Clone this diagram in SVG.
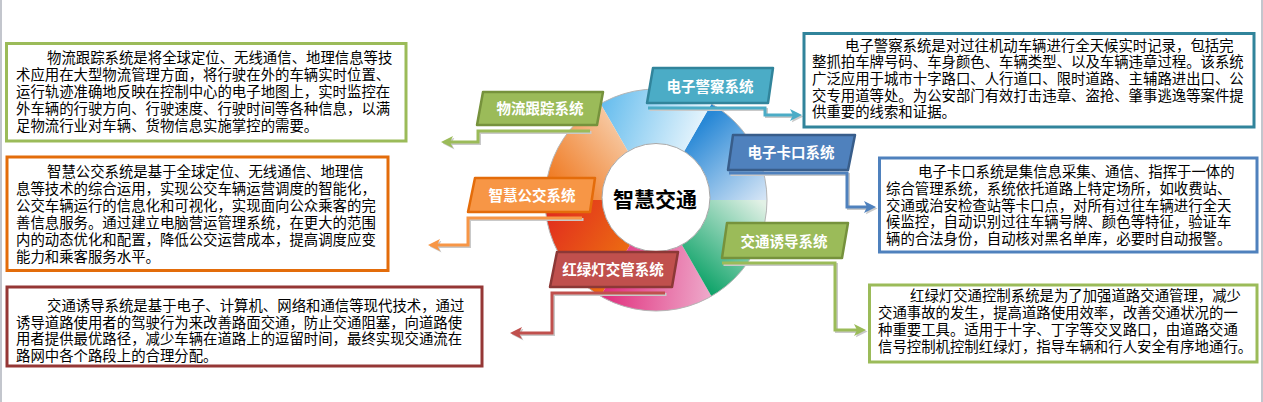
<svg xmlns="http://www.w3.org/2000/svg" width="1263" height="402" viewBox="0 0 1263 402">
<style>
.box{fill:#fff;stroke-width:3}
.body{font-family:"Noto Sans CJK SC","Noto Sans CJK JP",sans-serif;font-size:14.4px;fill:#000}
.tagtxt{font-family:"Noto Sans CJK SC","Noto Sans CJK JP",sans-serif;font-size:14.5px;font-weight:bold;fill:#fff;text-anchor:middle}
.tagshape{stroke-width:2.5;stroke-linejoin:round}
.conn{fill:none;stroke-width:3}
.shadow{fill:none;stroke:#c9c9c9;stroke-width:3}
.center{font-family:"Noto Sans CJK SC","Noto Sans CJK JP",sans-serif;font-size:21px;font-weight:bold;fill:#000;text-anchor:middle}
</style>
<defs>
<marker id="aG" viewBox="0 0 12 12" markerWidth="12" markerHeight="12" markerUnits="userSpaceOnUse" refX="8" refY="6" orient="auto"><path d="M0,0 L12,6 L0,12 L3,6 Z" fill="#9bbb59"/></marker>
<marker id="aT" viewBox="0 0 12 12" markerWidth="12" markerHeight="12" markerUnits="userSpaceOnUse" refX="8" refY="6" orient="auto"><path d="M0,0 L12,6 L0,12 L3,6 Z" fill="#4bacc6"/></marker>
<marker id="aB" viewBox="0 0 12 12" markerWidth="12" markerHeight="12" markerUnits="userSpaceOnUse" refX="8" refY="6" orient="auto"><path d="M0,0 L12,6 L0,12 L3,6 Z" fill="#4f81bd"/></marker>
<marker id="aO" viewBox="0 0 12 12" markerWidth="12" markerHeight="12" markerUnits="userSpaceOnUse" refX="8" refY="6" orient="auto"><path d="M0,0 L12,6 L0,12 L3,6 Z" fill="#f79646"/></marker>
<marker id="aR" viewBox="0 0 12 12" markerWidth="12" markerHeight="12" markerUnits="userSpaceOnUse" refX="8" refY="6" orient="auto"><path d="M0,0 L12,6 L0,12 L3,6 Z" fill="#c0504d"/></marker>
<marker id="aS" viewBox="0 0 12 12" markerWidth="12" markerHeight="12" markerUnits="userSpaceOnUse" refX="8" refY="6" orient="auto"><path d="M0,0 L12,6 L0,12 L3,6 Z" fill="#c9c9c9"/></marker>
<linearGradient id="gTop" gradientUnits="userSpaceOnUse" x1="600" y1="120" x2="712" y2="160"><stop offset="0" stop-color="#6bbfee"/><stop offset="1" stop-color="#ffffff"/></linearGradient>
<linearGradient id="gUR" gradientUnits="userSpaceOnUse" x1="695" y1="130" x2="765" y2="205"><stop offset="0" stop-color="#2888d6"/><stop offset="1" stop-color="#dde9f7"/></linearGradient>
<linearGradient id="gLR" gradientUnits="userSpaceOnUse" x1="765" y1="205" x2="695" y2="285"><stop offset="0" stop-color="#e2f1e6"/><stop offset="1" stop-color="#06a064"/></linearGradient>
<linearGradient id="gBot" gradientUnits="userSpaceOnUse" x1="600" y1="280" x2="712" y2="290"><stop offset="0" stop-color="#e02a7a"/><stop offset="1" stop-color="#eeaacb"/></linearGradient>
<linearGradient id="gLL" gradientUnits="userSpaceOnUse" x1="545" y1="215" x2="620" y2="265"><stop offset="0" stop-color="#e12c1e"/><stop offset="1" stop-color="#ec6c12"/></linearGradient>
<linearGradient id="gUL" gradientUnits="userSpaceOnUse" x1="548" y1="185" x2="622" y2="125"><stop offset="0" stop-color="#ef761c"/><stop offset="1" stop-color="#f7cba6"/></linearGradient>
</defs>
<rect x="0" y="0" width="1263" height="402" fill="#fff"/>
<rect x="0" y="0" width="2" height="402" fill="#c3c6cd"/>
<rect x="1261" y="0" width="2" height="402" fill="#c3c6cd"/>

<g id="wheel">
<path d="M656,200 L767,200 A111,111 0 0,0 711.5,103.87 Z" fill="url(#gUR)"/>
<path d="M656,200 L711.5,103.87 A111,111 0 0,0 600.5,103.87 Z" fill="url(#gTop)"/>
<path d="M656,200 L600.5,103.87 A111,111 0 0,0 545,200 Z" fill="url(#gUL)"/>
<path d="M656,200 L545,200 A111,111 0 0,0 600.5,296.13 Z" fill="url(#gLL)"/>
<path d="M656,200 L600.5,296.13 A111,111 0 0,0 711.5,296.13 Z" fill="url(#gBot)"/>
<path d="M656,200 L711.5,296.13 A111,111 0 0,0 767,200 Z" fill="url(#gLR)"/>
<circle cx="656" cy="200" r="111" fill="none" stroke="#b5b5b5" stroke-width="1"/>
</g>
<g id="hub">
<circle cx="656" cy="197.5" r="54" fill="#fff" stroke="#a8a8a8" stroke-width="1"/>
<text class="center" x="655" y="207">智慧交通</text>
</g>

<g id="connectors">
<path class="shadow" d="M591.5,132.5 H479.5 V143.5 H446.5" marker-end="url(#aS)"/>
<path class="shadow" d="M649.5,109.5 H766.5 V116.5 H799.5" marker-end="url(#aS)"/>
<path class="shadow" d="M730.5,174.5 H848.5 V208.5 H873.5" marker-end="url(#aS)"/>
<path class="shadow" d="M583.5,219.5 H469.5 V246.5 H433.5" marker-end="url(#aS)"/>
<path class="shadow" d="M723.5,264.5 H836.5 V331.5 H863.5" marker-end="url(#aS)"/>
<path class="shadow" d="M666.5,294.5 H553.5 V334.5 H515.5" marker-end="url(#aS)"/>
<path class="conn" stroke="#9bbb59" d="M590,131 H478 V142 H445" marker-end="url(#aG)"/>
<path class="conn" stroke="#4bacc6" d="M648,108 H765 V115 H798" marker-end="url(#aT)"/>
<path class="conn" stroke="#4f81bd" d="M729,173 H847 V207 H872" marker-end="url(#aB)"/>
<path class="conn" stroke="#f79646" d="M582,218 H468 V245 H432" marker-end="url(#aO)"/>
<path class="conn" stroke="#9bbb59" d="M722,263 H835 V330 H862" marker-end="url(#aG)"/>
<path class="conn" stroke="#c0504d" d="M665,293 H552 V333 H514" marker-end="url(#aR)"/>
</g>

<g id="tag-wuliu">
<polygon class="tagshape" points="483,92 603,92 597,125 477,125" fill="#9bbb59" stroke="#76923c"/>
<text class="tagtxt" x="540" y="114">物流跟踪系统</text>
</g>
<g id="tag-jingcha">
<polygon class="tagshape" points="653,68 773,68 768,103 647,103" fill="#4bacc6" stroke="#31849b"/>
<text class="tagtxt" x="710" y="92">电子警察系统</text>
</g>
<g id="tag-kakou">
<polygon class="tagshape" points="733,135 855,135 848,170 728,170" fill="#4f81bd" stroke="#385d8a"/>
<text class="tagtxt" x="791" y="158">电子卡口系统</text>
</g>
<g id="tag-gongjiao">
<polygon class="tagshape" points="475,178 595,178 590,212 468,212" fill="#f79646" stroke="#e46c0a"/>
<text class="tagtxt" x="532" y="200.5">智慧公交系统</text>
</g>
<g id="tag-youdao">
<polygon class="tagshape" points="727,223 848,223 842,258 722,258" fill="#9bbb59" stroke="#76923c"/>
<text class="tagtxt" x="784" y="246.5">交通诱导系统</text>
</g>
<g id="tag-hongludeng">
<polygon class="tagshape" points="557,252 678,252 672,287 550,287" fill="#c0504d" stroke="#8c3836"/>
<text class="tagtxt" x="613" y="275">红绿灯交管系统</text>
</g>

<g id="box-wuliu">
<rect class="box" x="6.5" y="43.5" width="399.5" height="97.5" stroke="#9bbb59"/>
<text class="body">
<tspan x="47" y="62.5">物流跟踪系统是将全球定位、无线通信、地理信息等技</tspan>
<tspan x="16" y="79.5">术应用在大型物流管理方面，将行驶在外的车辆实时位置、</tspan>
<tspan x="16" y="96.5">运行轨迹准确地反映在控制中心的电子地图上，实时监控在</tspan>
<tspan x="16" y="113.5">外车辆的行驶方向、行驶速度、行驶时间等各种信息，以满</tspan>
<tspan x="16" y="130.5">足物流行业对车辆、货物信息实施掌控的需要。</tspan>
</text>
</g>
<g id="box-gongjiao">
<rect class="box" x="7" y="157" width="381" height="113.5" stroke="#e36c0a"/>
<text class="body">
<tspan x="47" y="176.5">智慧公交系统是基于全球定位、无线通信、地理信</tspan>
<tspan x="16" y="193.5">息等技术的综合运用，实现公交车辆运营调度的智能化，</tspan>
<tspan x="16" y="210.5">公交车辆运行的信息化和可视化，实现面向公众乘客的完</tspan>
<tspan x="16" y="227.5">善信息服务。通过建立电脑营运管理系统，在更大的范围</tspan>
<tspan x="16" y="244.5">内的动态优化和配置，降低公交运营成本，提高调度应变</tspan>
<tspan x="16" y="261.5">能力和乘客服务水平。</tspan>
</text>
</g>
<g id="box-youdao">
<rect class="box" x="7" y="287" width="475" height="79" stroke="#953735"/>
<text class="body">
<tspan x="47" y="311">交通诱导系统是基于电子、计算机、网络和通信等现代技术，通过</tspan>
<tspan x="16" y="327.5">诱导道路使用者的驾驶行为来改善路面交通，防止交通阻塞，向道路使</tspan>
<tspan x="16" y="344">用者提供最优路径，减少车辆在道路上的逗留时间，最终实现交通流在</tspan>
<tspan x="16" y="360.5">路网中各个路段上的合理分配。</tspan>
</text>
</g>
<g id="box-jingcha">
<rect class="box" x="804" y="33.5" width="450" height="93.5" stroke="#31849b"/>
<text class="body">
<tspan x="845" y="50.5">电子警察系统是对过往机动车辆进行全天候实时记录，包括完</tspan>
<tspan x="812" y="67.2">整抓拍车牌号码、车身颜色、车辆类型、以及车辆违章过程。该系统</tspan>
<tspan x="812" y="83.8">广泛应用于城市十字路口、人行道口、限时道路、主辅路进出口、公</tspan>
<tspan x="812" y="100.5">交专用道等处。为公安部门有效打击违章、盗抢、肇事逃逸等案件提</tspan>
<tspan x="812" y="117.2">供重要的线索和证据。</tspan>
</text>
</g>
<g id="box-kakou">
<rect class="box" x="879.5" y="158" width="377.5" height="94" stroke="#4f81bd"/>
<text class="body">
<tspan x="918" y="177.2">电子卡口系统是集信息采集、通信、指挥于一体的</tspan>
<tspan x="886" y="193.8">综合管理系统，系统依托道路上特定场所，如收费站、</tspan>
<tspan x="886" y="210.5">交通或治安检查站等卡口点，对所有过往车辆进行全天</tspan>
<tspan x="886" y="227.2">候监控，自动识别过往车辆号牌、颜色等特征，验证车</tspan>
<tspan x="886" y="243.8">辆的合法身份，自动核对黑名单库，必要时自动报警。</tspan>
</text>
</g>
<g id="box-hongludeng">
<rect class="box" x="869.5" y="285" width="387.5" height="77" stroke="#9bbb59"/>
<text class="body">
<tspan x="910" y="300.5">红绿灯交通控制系统是为了加强道路交通管理，减少</tspan>
<tspan x="878" y="318.2">交通事故的发生，提高道路使用效率，改善交通状况的一</tspan>
<tspan x="878" y="334.8">种重要工具。适用于十字、丁字等交叉路口，由道路交通</tspan>
<tspan x="878" y="352.2">信号控制机控制红绿灯，指导车辆和行人安全有序地通行。</tspan>
</text>
</g>
</svg>
